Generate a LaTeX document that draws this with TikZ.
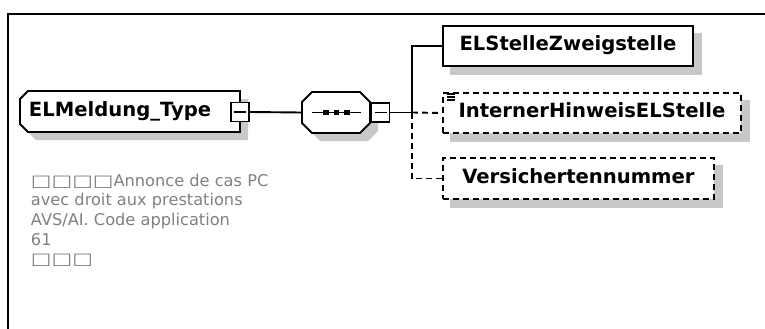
\documentclass[tikz,border=0pt]{standalone}
\usepackage{graphicx}
\usepackage{fontspec}
\setmainfont{DejaVu Sans}
\newfontfamily\boxfont{DejaVu Sans}
\usetikzlibrary{calc,backgrounds}
\definecolor{shc}{RGB}{200,200,200}
\definecolor{cmtc}{RGB}{128,128,128}
\newcommand\chamLpath[5]{(#1+#5,#2) -- (#3,#2) -- (#3,#4) -- (#1+#5,#4) -- (#1,#4-#5) -- (#1,#2+#5) -- cycle}
\newcommand\octpath[5]{(#1+#5,#2) -- (#3-#5,#2) -- (#3,#2+#5) -- (#3,#4-#5) -- (#3-#5,#4) -- (#1+#5,#4) -- (#1,#4-#5) -- (#1,#2+#5) -- cycle}
\newcommand\nobox{\scalebox{1.35}[1]{□}}
\begin{document}
\begin{tikzpicture}[x=1pt,y=-1pt,line width=1.9pt,
  boxtext/.style={inner sep=0pt,text height=14pt,text depth=4pt,
    font=\boxfont\bfseries\fontsize{19.6}{22}\selectfont},
  elbox/.style={boxtext,draw=black,fill=white,rectangle,anchor=north west},
  optbox/.style={elbox,dash pattern=on 6pt off 4pt},
  minusbox/.style={draw=black,fill=white,rectangle,minimum width=18pt,minimum height=19pt,inner sep=0pt},
  conn/.style={line width=1.9pt},
  optconn/.style={conn,dash pattern=on 6pt off 4pt},
  cmt/.style={inner sep=0pt,align=left,text=cmtc,
    font=\fontsize{16.2}{19.6}\selectfont}]
\useasboundingbox (0,0) rectangle (765,329);
% frame
\draw[line width=1.8pt] (8,330) -- (8,14) -- (766,14);

% complex type ELMeldung_Type
\fill[shc] \chamLpath{28}{99}{248}{140}{8};
\filldraw[fill=white] \chamLpath{20}{91}{240}{132}{8};
\node[boxtext,anchor=west] (elm) at (28,111.5) {ELMeldung\_Type};
\node[minusbox] (m1) at (240,112) {};
\draw ($(m1.center)+(-6,0)$) -- ($(m1.center)+(6,0)$);

% annotation
\node[cmt,anchor=north west] (note) at (30,173) {\nobox\nobox\nobox\nobox Annonce de cas PC\\avec droit aux prestations\\AVS/AI. Code application\\61\\\nobox\nobox\nobox};

% sequence compositor
\fill[shc] \octpath{310}{100}{378}{141}{10};
\filldraw[fill=white] \octpath{302}{92}{370}{133}{10};
\node[inner sep=0pt,minimum width=68pt,minimum height=41pt] (seq) at (336,112.5) {};
\draw[line width=1.6pt] (312,112.5) -- (361,112.5);
\foreach \dx in {326,336.5,347} \fill (\dx-2.8,109.7) rectangle (\dx+2.8,115.3);
\node[minusbox] (m2) at (380.5,112.5) {};
\draw ($(m2.center)+(-6,0)$) -- ($(m2.center)+(6,0)$);
\coordinate (br) at (412,112.5);

% children
\node[elbox,minimum width=250pt,minimum height=40pt] (c1) at (442,25) {ELStelleZweigstelle};
\node[optbox,minimum width=298pt,minimum height=40pt] (c2) at (442,92) {InternerHinweisELStelle};
\node[optbox,minimum width=271pt,minimum height=41pt] (c3) at (442,157) {Versichertennummer};
\begin{scope}[on background layer]
  \foreach \n in {c1,c2,c3}
    \fill[shc] ($(\n.north west)+(8,8)$) rectangle ($(\n.south east)+(8,8)$);
\end{scope}
% annotation icon
\foreach \yy in {94,97,100} \draw[line width=1.2pt] (447,\yy) -- (455,\yy);

% connectors
\draw[conn] (m1.east) -- (seq.west);
\draw[conn] (m2.east) -- (br);
\draw[conn] (br) |- (c1.west);
\draw[optconn] (br) -- (c2.west);
\draw[optconn] (br) |- (c3.west);
\end{tikzpicture}
\end{document}
